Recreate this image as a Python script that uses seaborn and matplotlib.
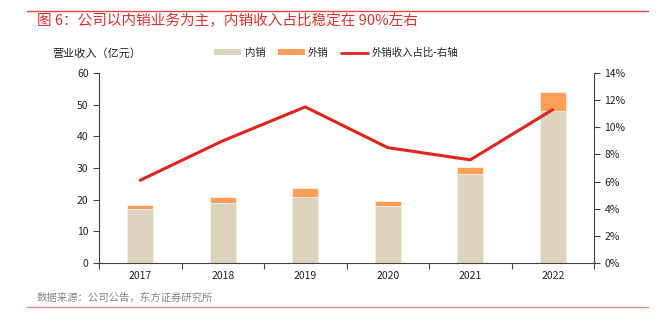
import numpy as np
import pandas as pd
import matplotlib
matplotlib.use("Agg")
import matplotlib.pyplot as plt
import seaborn as sns
from matplotlib.patches import Patch
from matplotlib.lines import Line2D
from matplotlib.ticker import PercentFormatter

years = ["2017", "2018", "2019", "2020", "2021", "2022"]
domestic = [17.2, 18.9, 20.8, 18.1, 28.1, 48.0]
overseas = [1.1, 1.9, 2.8, 1.6, 2.2, 6.1]
overseas_share = [6.1, 9.0, 11.5, 8.5, 7.6, 11.3]

sns.set_theme(style="white")
plt.rcParams['font.family'] = ['Noto Sans CJK SC', 'DejaVu Sans']

C_DOM = "#DDD4BD"
C_OVS = "#FF9F57"
C_LINE = "#E3231C"
C_RED = "#E0302C"
AXC = "#444444"

df = pd.DataFrame({"year": years, "domestic": domestic, "overseas": overseas})
df["total"] = df["domestic"] + df["overseas"]

fig = plt.figure(figsize=(6.56, 3.23), dpi=100)
ax = fig.add_axes([99/656, 1-263/323, (594-99)/656, (263-73)/323])

sns.barplot(data=df, x="year", y="total", color=C_OVS, width=0.32, ax=ax,
            saturation=1, edgecolor="#FFF3E6", linewidth=0.6)
sns.barplot(data=df, x="year", y="domestic", color=C_DOM, width=0.32, ax=ax,
            saturation=1, edgecolor="#F5F0E4", linewidth=0.6)

ax2 = ax.twinx()
sns.lineplot(x=np.arange(len(years)), y=overseas_share, ax=ax2, color=C_LINE, linewidth=2.2)

ax.set_xlim(-0.5, len(years) - 0.5)
ax.set_ylim(0, 60)
ax.set_yticks(np.arange(0, 61, 10))
ax2.set_ylim(0, 14)
ax2.set_yticks(np.arange(0, 15, 2))
ax2.yaxis.set_major_formatter(PercentFormatter(decimals=0))

ax.set_xlabel("")
ax.set_ylabel("")
ax2.set_ylabel("")

for a in (ax, ax2):
    for s in a.spines.values():
        s.set_visible(False)
ax.spines['left'].set_visible(True)
ax.spines['bottom'].set_visible(True)
ax2.spines['right'].set_visible(True)
for s in (ax.spines['left'], ax.spines['bottom'], ax2.spines['right']):
    s.set_color(AXC)
    s.set_linewidth(0.8)

ax.set_xticks(np.arange(len(years)))
ax.set_xticklabels(years)
ax.set_xticks(np.arange(-0.5, len(years), 1), minor=True)
ax.tick_params(axis='x', which='major', length=0, labelsize=7.5, colors="#222222", pad=6)
ax.tick_params(axis='x', which='minor', length=4, width=0.8, color=AXC, direction='out', bottom=True)
ax.tick_params(axis='y', length=4, width=0.8, color=AXC, direction='out', labelsize=7.5,
               labelcolor="#222222", left=True)
ax2.tick_params(axis='y', length=4, width=0.8, color=AXC, direction='out', labelsize=7.5,
                labelcolor="#222222", right=True)
ax.grid(False)
ax2.grid(False)

# header and legend
fig.text(37/656, 1-21/323, "图 6：公司以内销业务为主，内销收入占比稳定在 90%左右",
         color=C_RED, fontsize=10.5, fontweight='medium', va='center', ha='left')
fig.add_artist(Line2D([27/656, 648/656], [1-11/323, 1-11/323], color="#E8463F", linewidth=1.0))
fig.text(52/656, 1-53/323, "营业收入（亿元）", fontsize=8, color="#222222", va='center', ha='left')

handles = [Patch(facecolor=C_DOM, edgecolor='none'),
           Patch(facecolor=C_OVS, edgecolor='none'),
           Line2D([0], [0], color=C_LINE, linewidth=2)]
labels = ["内销", "外销", "外销收入占比-右轴"]
fig.legend(handles, labels, loc='center left', bbox_to_anchor=(205/656, 1-53/323), ncol=3,
           frameon=False, fontsize=7.5, handlelength=2.6, handleheight=0.5,
           columnspacing=1.2, handletextpad=0.3)

fig.text(37/656, 1-298/323, "数据来源：公司公告，东方证券研究所", fontsize=7.5,
         color="#888888", va='center', ha='left')
fig.add_artist(Line2D([27/656, 648/656], [1-307/323, 1-307/323], color="#EE8A86", linewidth=1.0))

fig.savefig("out.png", dpi=100)
